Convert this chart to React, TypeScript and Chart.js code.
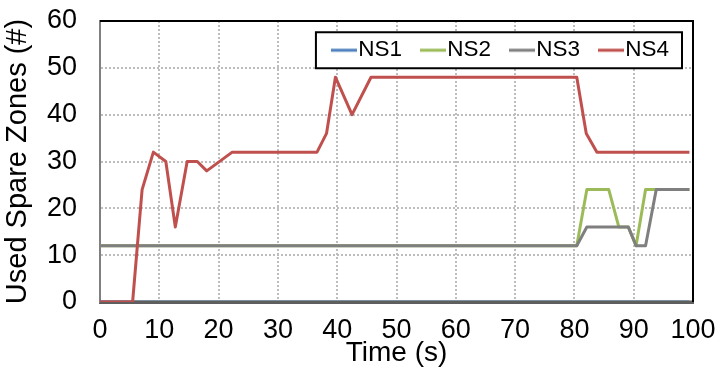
import React, { useEffect, useRef } from 'react';
import { Chart, registerables } from 'chart.js';

Chart.register(...registerables);

const FONT = "'Liberation Sans', Arial, Helvetica, sans-serif";

const seriesNames = ['NS1', 'NS2', 'NS3', 'NS4'];
const seriesColors = ['#4F81BD', '#9BBB59', '#7F7F7F', '#C0504D'];

const ns1Times = [0, 99.4];
const ns1Values = [0, 0];

const ns2Times = [0, 80.4, 82.1, 85.8, 87.5, 89.1, 90.4, 92.0, 99.4];
const ns2Values = [12, 12, 24, 24, 16, 16, 12, 24, 24];

const ns3Times = [0, 80.4, 82.1, 89.1, 90.4, 92.0, 93.8, 99.4];
const ns3Values = [12, 12, 16, 16, 12, 12, 24, 24];

const ns4Times = [0, 5.5, 7.1, 9.0, 11.1, 12.7, 14.7, 16.4, 18.0, 22.3, 36.6, 38.2, 39.7, 42.5, 45.7, 80.4, 82.0, 83.8, 99.4];
const ns4Values = [0, 0, 24, 32, 30, 16, 30, 30, 28, 32, 32, 36, 48, 40, 48, 48, 36, 32, 32];

const xTickValues = [0, 10, 20, 30, 40, 50, 60, 70, 80, 90, 100];
const yTickValues = [0, 10, 20, 30, 40, 50, 60];

const xTitle = 'Time (s)';
const yTitle = 'Used Spare Zones (#)';

const AXIS_X_COLOR = '#5f5f5f';
const AXIS_X_WIDTH = 3;
const GRID_COLOR = '#bdbdbd';
const LEGEND_FONT = 22.5;
const LEGEND_PAD = 18;
const LEGEND_SHIFT = -6;
const PLOT_TOP = 21;
const PAD_RIGHT = 26;

const toPoints = (t: number[], v: number[]) => t.map((x, i) => ({ x, y: v[i] }));

const framePlugin = {
  id: 'frame',
  afterLayout(chart: any) {
    // place the legend inside the plot area, at its top right
    const lg = chart.legend;
    if (lg) {
      const h = lg.height;
      lg.top = chart.chartArea.top;
      lg.bottom = lg.top + h;
      lg.left += LEGEND_SHIFT;
      lg.right += LEGEND_SHIFT;
    }
  },
  beforeDatasetDraw(chart: any, args: any) {
    if (args.index === 3) {
      const { ctx, chartArea: a } = chart;
      ctx.save();
      ctx.strokeStyle = AXIS_X_COLOR;
      ctx.lineWidth = AXIS_X_WIDTH;
      ctx.beginPath();
      ctx.moveTo(a.left, a.bottom);
      ctx.lineTo(a.right, a.bottom);
      ctx.stroke();
      ctx.restore();
    }
  },
  afterDatasetsDraw(chart: any) {
    const { ctx, chartArea: a } = chart;
    ctx.save();
    ctx.strokeStyle = '#000';
    ctx.lineWidth = 2;
    ctx.beginPath();
    ctx.moveTo(a.left, a.top);
    ctx.lineTo(a.right, a.top);
    ctx.lineTo(a.right, a.bottom);
    ctx.stroke();
    const lg = chart.legend;
    const hb = lg && lg.legendHitBoxes;
    if (hb && hb.length) {
      const first = hb[0];
      const last = hb[hb.length - 1];
      const cy = first.top + first.height / 2;
      const l = first.left - 15;
      const r = last.left + last.width + 13;
      ctx.fillStyle = '#fff';
      ctx.fillRect(l, cy - 18, r - l, 36);
      ctx.lineWidth = 2;
      ctx.strokeRect(l, cy - 18, r - l, 36);
    }
    ctx.restore();
    if (lg) lg.draw();
  },
};

export default function App() {
  const ref = useRef<HTMLCanvasElement | null>(null);

  useEffect(() => {
    if (!ref.current) return;
    const timeSets = [ns1Times, ns2Times, ns3Times, ns4Times];
    const valueSets = [ns1Values, ns2Values, ns3Values, ns4Values];
    const datasets = seriesNames.map((name, i) => ({
      label: name,
      data: toPoints(timeSets[i], valueSets[i]),
      borderColor: seriesColors[i],
      backgroundColor: seriesColors[i],
      borderWidth: 3,
      pointRadius: 0,
      tension: 0,
      borderJoinStyle: 'round' as const,
      order: 3 - i,
    }));

    const chart = new Chart(ref.current, {
      type: 'line',
      data: { datasets },
      plugins: [framePlugin],
      options: {
        responsive: false,
        animation: false,
        layout: { padding: { top: 0, right: PAD_RIGHT, bottom: 0, left: 0 } },
        scales: {
          x: {
            type: 'linear',
            min: 0,
            max: 100,
            afterBuildTicks: (s: any) => {
              s.ticks = xTickValues.map((v) => ({ value: v }));
            },
            afterFit: (s: any) => {
              s.height = 74;
              s.paddingLeft = 0;
              s.paddingRight = 0;
            },
            ticks: {
              padding: 12,
              color: '#000',
              font: { family: FONT, size: 27 },
              maxRotation: 0,
              autoSkip: false,
            },
            grid: {
              color: GRID_COLOR,
              lineWidth: 2,
              drawTicks: false,
            },
            border: { display: true, color: AXIS_X_COLOR, width: AXIS_X_WIDTH, dash: [2, 2] as any },
            title: {
              display: true,
              text: xTitle,
              color: '#000',
              font: { family: FONT, size: 28 },
              padding: { top: 0, bottom: 6 },
            },
          },
          y: {
            type: 'linear',
            min: 0,
            max: 60,
            afterBuildTicks: (s: any) => {
              s.ticks = yTickValues.map((v) => ({ value: v }));
            },
            afterFit: (s: any) => {
              s.width = 100;
              s.paddingTop = 0;
              s.paddingBottom = 0;
            },
            ticks: {
              padding: 23,
              color: '#000',
              font: { family: FONT, size: 27 },
            },
            grid: {
              color: GRID_COLOR,
              lineWidth: 2,
              drawTicks: false,
            },
            border: { display: true, color: '#808080', width: 2, dash: [2, 2] as any },
            title: {
              display: true,
              text: yTitle,
              color: '#000',
              font: { family: FONT, size: 29 },
              padding: { top: 1, bottom: 0 },
            },
          },
        },
        plugins: {
          legend: {
            position: 'top',
            align: 'end',
            labels: {
              sort: (a: any, b: any) => a.datasetIndex - b.datasetIndex,
              usePointStyle: true,
              pointStyleWidth: 16,
              padding: LEGEND_PAD,
              color: '#000',
              font: { family: FONT, size: LEGEND_FONT },
              generateLabels: (c: any) => {
                const items = (Chart as any).defaults.plugins.legend.labels.generateLabels(c);
                return items.map((it: any) => {
                  const ds = c.data.datasets[it.datasetIndex];
                  const img = document.createElement('canvas');
                  img.width = 36;
                  img.height = 6;
                  const g = img.getContext('2d')!;
                  g.strokeStyle = ds.borderColor;
                  g.lineWidth = 3;
                  g.beginPath();
                  g.moveTo(10, 3);
                  g.lineTo(36, 3);
                  g.stroke();
                  return { ...it, pointStyle: img };
                });
              },
            },
          },
          tooltip: { enabled: false },
        },
      },
    });

    // the legend sits inside the plot: pull the plot area up so its top lands at PLOT_TOP
    let padTop = 0;
    for (let k = 0; k < 3; k++) {
      const diff = chart.chartArea.top - PLOT_TOP;
      if (Math.abs(diff) < 0.01) break;
      padTop -= diff;
      chart.options.layout = { padding: { top: padTop, right: PAD_RIGHT, bottom: 0, left: 0 } } as any;
      chart.update();
    }

    return () => chart.destroy();
  }, []);

  return (
    <div style={{ position: 'fixed', left: 0, top: 0, width: 719, height: 376, background: '#fff' }}>
      <canvas ref={ref} width={719} height={376} />
    </div>
  );
}
